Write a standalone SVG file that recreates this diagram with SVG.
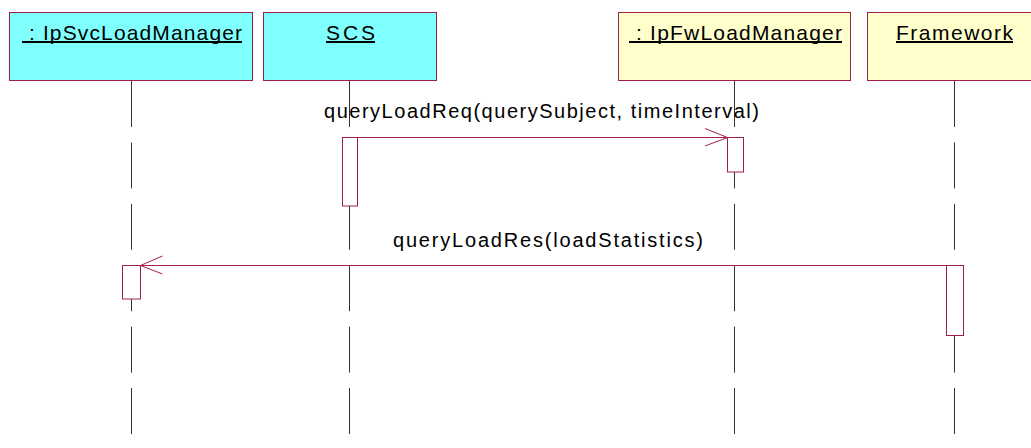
<svg xmlns="http://www.w3.org/2000/svg" width="1031" height="448" viewBox="0 0 1031 448">
<style>
.obj{stroke:#A0204A;stroke-width:1}
.cyan{fill:#80FFFF}
.yel{fill:#FFFFCC}
.lbl{font-family:"Liberation Sans",Arial,sans-serif;font-size:21px;fill:#000}
.ul{stroke:#000;stroke-width:2}
.msg{font-family:"Liberation Sans",Arial,sans-serif;font-size:20px;fill:#000}
.life{stroke:#333;stroke-width:1;stroke-dasharray:46 15.4;fill:none}
.act{fill:#fff;stroke:#A0204A;stroke-width:1}
.ml{stroke:#A0204A;stroke-width:1;fill:none}
</style>
<rect width="1031" height="448" fill="#fff"/>
<g id="lifelines">
<line class="life" x1="131.5" y1="81" x2="131.5" y2="434"/>
<line class="life" x1="349.5" y1="81" x2="349.5" y2="434"/>
<line class="life" x1="734.5" y1="81" x2="734.5" y2="434"/>
<line class="life" x1="954.5" y1="81" x2="954.5" y2="434"/>
</g>
<g id="IpSvcLoadManager">
<rect class="obj cyan" x="9.5" y="12.5" width="243" height="68"/>
<text class="lbl" x="22" y="39.5" textLength="220" lengthAdjust="spacing" xml:space="preserve"> : IpSvcLoadManager</text>
<line class="ul" x1="22" y1="42" x2="242" y2="42"/>
</g>
<g id="SCS">
<rect class="obj cyan" x="263.5" y="12.5" width="173" height="68"/>
<text class="lbl" x="326" y="39.5" textLength="49" lengthAdjust="spacing">SCS</text>
<line class="ul" x1="326" y1="42" x2="375" y2="42"/>
</g>
<g id="IpFwLoadManager">
<rect class="obj yel" x="618.5" y="12.5" width="232" height="68"/>
<text class="lbl" x="629" y="39.5" textLength="213" lengthAdjust="spacing" xml:space="preserve"> : IpFwLoadManager</text>
<line class="ul" x1="629" y1="42" x2="842" y2="42"/>
</g>
<g id="Framework">
<rect class="obj yel" x="867.5" y="12.5" width="175" height="68"/>
<text class="lbl" x="896" y="39.5" textLength="117" lengthAdjust="spacing">Framework</text>
<line class="ul" x1="896" y1="42" x2="1013" y2="42"/>
</g>
<g id="activations">
<rect class="act" x="342.5" y="137.5" width="15" height="68.5"/>
<rect class="act" x="727.5" y="137.5" width="16" height="34.5"/>
<rect class="act" x="946.5" y="265.5" width="17" height="70"/>
<rect class="act" x="122.5" y="265.5" width="18" height="33.5"/>
</g>
<g id="connectors">
<line class="ml" x1="357.5" y1="137.5" x2="727.5" y2="137.5"/>
<polyline class="ml" points="705,128.5 727.5,137.5 705,146"/>
<text class="msg" x="324" y="118" textLength="435" lengthAdjust="spacing">queryLoadReq(querySubject, timeInterval)</text>
<line class="ml" x1="946.5" y1="265.5" x2="140.5" y2="265.5"/>
<polyline class="ml" points="162.5,256 140.5,265.5 162.5,274"/>
<text class="msg" x="393" y="247" textLength="310" lengthAdjust="spacing">queryLoadRes(loadStatistics)</text>
</g>
</svg>
